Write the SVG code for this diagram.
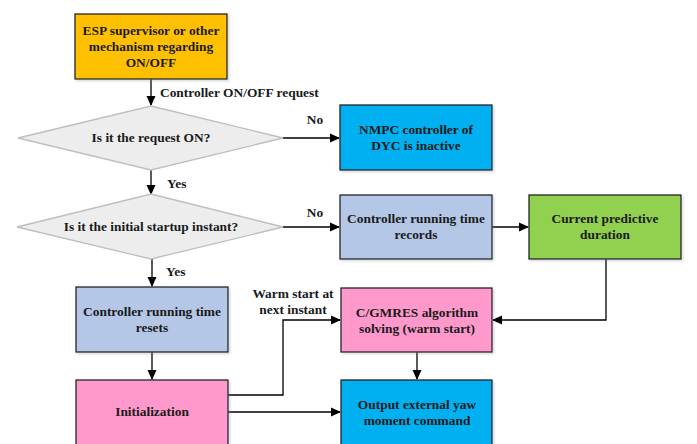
<svg xmlns="http://www.w3.org/2000/svg" width="697" height="444" viewBox="0 0 697 444">
<defs>
<marker id="ah" markerWidth="10" markerHeight="10" refX="9" refY="5" orient="auto" markerUnits="userSpaceOnUse">
<path d="M0,0.5 L10,5 L0,9.5 Z" fill="#000"/>
</marker>
<filter id="sh" x="-10%" y="-10%" width="130%" height="130%">
<feDropShadow dx="1.5" dy="1.5" stdDeviation="1" flood-color="#8090a0" flood-opacity="0.35"/>
</filter>
</defs>
<style>
text{font-family:"Liberation Serif","Times New Roman",serif;font-weight:bold;font-size:13.4px;fill:#1a1a1a;text-anchor:middle}
.box{stroke:#262626;stroke-width:1.3;filter:url(#sh)}
.dia{fill:#EDEDED;stroke:#BFBFBF;stroke-width:1.3}
.c{fill:none;stroke:#000;stroke-width:1.3;marker-end:url(#ah)}
.n{fill:none;stroke:#000;stroke-width:1.3}
.lbl{text-anchor:start}
</style>
<rect width="697" height="444" fill="#fff"/>
<g id="connectors">
<path class="c" d="M151,79 V105"/>
<path class="c" d="M283,138 H339"/>
<path class="c" d="M151,170 V194"/>
<path class="c" d="M283,227 H339"/>
<path class="c" d="M492,227 H528"/>
<path class="c" d="M606,259 V320 H493"/>
<path class="c" d="M152,259 V286"/>
<path class="c" d="M152,352 V379"/>
<path class="c" d="M228,395 H283 V320 H340"/>
<path class="c" d="M228,412 H340"/>
<path class="c" d="M417,352 V379"/>
<text class="lbl" x="160" y="97">Controller ON/OFF request</text>
<text x="315" y="124">No</text>
<text class="lbl" x="167" y="188">Yes</text>
<text x="315" y="217">No</text>
<text class="lbl" x="166" y="276">Yes</text>
<text x="293" y="298">Warm start at</text>
<text x="293" y="314">next instant</text>
</g>
<g id="esp">
<rect class="box" x="75" y="14" width="152" height="65" fill="#FFC000"/>
<text x="151" y="35">ESP supervisor or other</text>
<text x="151" y="51">mechanism regarding</text>
<text x="151" y="67">ON/OFF</text>
</g>
<g id="d1">
<polygon class="dia" points="151,106 283,138 151,170 18,138"/>
<text x="151" y="142">Is it the request ON?</text>
</g>
<g id="nmpc">
<rect class="box" x="340" y="105" width="152" height="65" fill="#00B0F0"/>
<text x="416" y="134">NMPC controller of</text>
<text x="416" y="150">DYC is inactive</text>
</g>
<g id="d2">
<polygon class="dia" points="151,194 283,227 151,259 17,227" fill="#F2F2F2"/>
<text x="151" y="231">Is it the initial startup instant?</text>
</g>
<g id="records">
<rect class="box" x="340" y="195" width="152" height="64" fill="#B4C7E7"/>
<text x="416" y="223">Controller running time</text>
<text x="416" y="239">records</text>
</g>
<g id="current">
<rect class="box" x="529" y="195" width="152" height="64" fill="#92D050"/>
<text x="605" y="223">Current predictive</text>
<text x="605" y="239">duration</text>
</g>
<g id="resets">
<rect class="box" x="76" y="287" width="152" height="65" fill="#B4C7E7"/>
<text x="152" y="316">Controller running time</text>
<text x="152" y="332">resets</text>
</g>
<g id="cgmres">
<rect class="box" x="341" y="288" width="151" height="64" fill="#FF99CC"/>
<text x="417" y="317">C/GMRES algorithm</text>
<text x="417" y="333">solving (warm start)</text>
</g>
<g id="init">
<rect class="box" x="76" y="380" width="152" height="70" fill="#FF99CC"/>
<text x="152" y="416">Initialization</text>
</g>
<g id="output">
<rect class="box" x="341" y="380" width="151" height="70" fill="#00B0F0"/>
<text x="417" y="409">Output external yaw</text>
<text x="417" y="425">moment command</text>
</g>
</svg>
